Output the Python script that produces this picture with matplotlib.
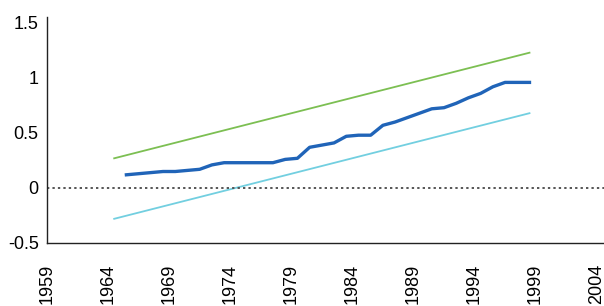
import matplotlib
matplotlib.use("Agg")
import matplotlib.pyplot as plt
import numpy as np

# upper / lower bands (straight trend lines, read at start, middle and end)
band_years = [1965, 1982, 1999]
upper_band = [0.27, 0.75, 1.23]
lower_band = [-0.28, 0.20, 0.68]

# main series
series_years = list(range(1966, 2000))
series_values = [
    0.12, 0.13, 0.14, 0.15, 0.15, 0.16, 0.17, 0.21, 0.23, 0.23,
    0.23, 0.23, 0.23, 0.26, 0.27, 0.37, 0.39, 0.41, 0.47, 0.48,
    0.48, 0.57, 0.60, 0.64, 0.68, 0.72, 0.73, 0.77, 0.82, 0.86,
    0.92, 0.96, 0.96, 0.96,
]

tick_years = list(range(1959, 2005, 5))
y_ticks = [-0.5, 0, 0.5, 1, 1.5]
y_tick_labels = ["-0.5", "0", "0.5", "1", "1.5"]

plt.rcParams["font.family"] = ["Liberation Sans", "DejaVu Sans"]

figure = plt.figure(figsize=(6.04, 3.06), dpi=100)
axis = figure.add_axes([47 / 604, 1 - 243 / 306, 1 - 47 / 604, (243 - 17.5) / 306])

# categories are drawn centred half a step before the labelled tick
shift = 0.5
axis.plot(np.array(band_years) - shift, upper_band, color="#7cbf52", linewidth=1.3)
axis.plot(np.array(band_years) - shift, lower_band, color="#72cfe0", linewidth=1.3)
axis.plot(np.array(series_years) - shift, series_values, color="#2064b8",
          linewidth=2.4, solid_joinstyle="round")
axis.axhline(0, color="#555555", linewidth=1.4, linestyle=(0, (1.2, 1.6)))

axis.set_xlim(1959, 2004.6)
axis.set_ylim(-0.5, 1.55)
axis.set_xticks(tick_years)
axis.set_xticklabels([str(y) for y in tick_years], rotation=90, fontsize=13,
                     va="top", ha="center")
axis.set_yticks(y_ticks)
axis.set_yticklabels(y_tick_labels, fontsize=13)
axis.tick_params(axis="both", length=0)
axis.tick_params(axis="x", pad=15)
axis.tick_params(axis="y", pad=6)

for side in ["top", "right"]:
    axis.spines[side].set_visible(False)
for side in ["left", "bottom"]:
    axis.spines[side].set_color("#222222")
    axis.spines[side].set_linewidth(1.0)

figure.savefig("out.png", dpi=100)
